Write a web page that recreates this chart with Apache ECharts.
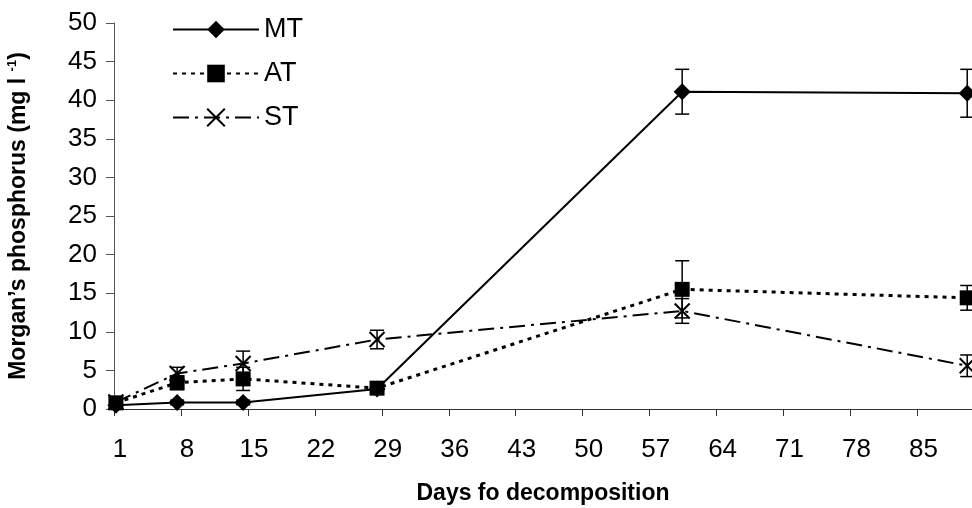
<!DOCTYPE html>
<html>
<head>
<meta charset="utf-8">
<script src="https://cdn.jsdelivr.net/npm/echarts@6/dist/echarts.min.js"></script>
<style>
  html, body { margin: 0; padding: 0; background: #fff; }
  #chart { width: 972px; height: 508px; }
</style>
</head>
<body>
<div id="chart"></div>
<script>
// sampling days
var days = [1.2, 7.6, 14.5, 28.5, 60.4, 90.2];
// Morgan's phosphorus, mg l-1
var mtValues = [0.5, 0.85, 0.85, 2.6, 41.1, 40.9];
var atValues = [0.8, 3.4, 3.9, 2.7, 15.5, 14.4];
var stValues = [0.9, 4.6, 5.9, 9.0, 12.7, 5.6];
// error bar half-lengths
var mtErr = [0.4, 0.3, 0.3, 0.3, 2.9, 3.1];
var atErr = [0.7, 0.9, 1.5, 0.4, 3.7, 1.6];
var stErr = [0.5, 0.8, 1.6, 1.2, 1.6, 1.4];

var font = 'Liberation Sans, Arial, sans-serif';

function pairs(vals) {
    return days.map(function (d, i) { return [d, vals[i]]; });
}
function triples(vals, errs) {
    return days.map(function (d, i) { return [d, vals[i], errs[i]]; });
}

// vertical error bar with caps
function errorBar(params, api) {
    var x = api.value(0), y = api.value(1), e = api.value(2);
    var top = api.coord([x, y + e]);
    var bot = api.coord([x, y - e]);
    var w = 7;
    var st = { stroke: '#000', lineWidth: 1.5 };
    return {
        type: 'group',
        children: [
            { type: 'line', shape: { x1: top[0], y1: top[1], x2: bot[0], y2: bot[1] }, style: st },
            { type: 'line', shape: { x1: top[0] - w, y1: top[1], x2: top[0] + w, y2: top[1] }, style: st },
            { type: 'line', shape: { x1: bot[0] - w, y1: bot[1], x2: bot[0] + w, y2: bot[1] }, style: st }
        ]
    };
}

var myChart = echarts.init(document.getElementById('chart'));

var option = {
    animation: false,
    backgroundColor: '#fff',
    grid: { left: 114, right: 0, top: 23, bottom: 99, containLabel: false, outerBoundsMode: 'none' },
    legend: {
        data: ['MT', 'AT', 'ST'],
        orient: 'vertical',
        left: 167,
        top: 11,
        itemWidth: 86,
        itemHeight: 22,
        itemGap: 17,
        textStyle: { fontFamily: font, fontSize: 27, color: '#000' }
    },
    xAxis: {
        type: 'value',
        min: 1,
        max: 90.7,
        interval: 7,
        name: 'Days fo decomposition',
        nameLocation: 'middle',
        nameGap: 73,
        nameTextStyle: { fontFamily: font, fontSize: 23, fontWeight: 'bold', color: '#000' },
        axisLine: { lineStyle: { color: '#333', width: 1 } },
        axisTick: { show: true, length: 7, lineStyle: { color: '#333' } },
        splitLine: { show: false },
        axisLabel: {
            fontFamily: font, fontSize: 26, color: '#000', margin: 28,
            padding: [0, 0, 0, 12],
            showMaxLabel: false,
            formatter: function (v) {
                var k = (v - 1) / 7;
                return Math.abs(k - Math.round(k)) < 1e-6 ? String(Math.round(v)) : '';
            }
        }
    },
    yAxis: {
        type: 'value',
        min: 0,
        max: 50,
        interval: 5,
        name: 'Morgan\u2019s phosphorus (mg l {sup|-1})',
        nameLocation: 'middle',
        nameGap: 83,
        nameTextStyle: {
            fontFamily: font, fontSize: 23, fontWeight: 'bold', color: '#000',
            rich: { sup: { fontFamily: font, fontSize: 13, fontWeight: 'bold', color: '#000', padding: [0, 0, 12, 0] } }
        },
        axisLine: { show: true, lineStyle: { color: '#555', width: 1 } },
        axisTick: { show: true, length: 8, lineStyle: { color: '#555' } },
        splitLine: { show: false },
        axisLabel: { fontFamily: font, fontSize: 26, color: '#000', margin: 17 }
    },
    series: [
        {
            name: 'MT', type: 'line', data: pairs(mtValues),
            symbol: 'diamond', symbolSize: 17,
            lineStyle: { color: '#000', width: 2, type: 'solid' },
            itemStyle: { color: '#000', borderWidth: 0 },
            z: 3
        },
        {
            name: 'AT', type: 'line', data: pairs(atValues),
            symbol: 'rect', symbolSize: 15,
            lineStyle: { color: '#000', width: 3, type: [4, 5] },
            itemStyle: { color: '#000', borderWidth: 0 },
            z: 3
        },
        {
            name: 'ST', type: 'line', data: pairs(stValues),
            symbol: 'path://M0,0L10,10M10,0L0,10', symbolSize: 15,
            lineStyle: { color: '#000', width: 2, type: [16, 6, 3, 6] },
            itemStyle: { color: '#000', borderColor: '#000', borderWidth: 2 },
            z: 3
        },
        { name: 'MT err', type: 'custom', renderItem: errorBar, data: triples(mtValues, mtErr), encode: { x: 0, y: 1 }, z: 4 },
        { name: 'AT err', type: 'custom', renderItem: errorBar, data: triples(atValues, atErr), encode: { x: 0, y: 1 }, z: 4 },
        { name: 'ST err', type: 'custom', renderItem: errorBar, data: triples(stValues, stErr), encode: { x: 0, y: 1 }, z: 4 }
    ]
};

myChart.setOption(option);
</script>
</body>
</html>
